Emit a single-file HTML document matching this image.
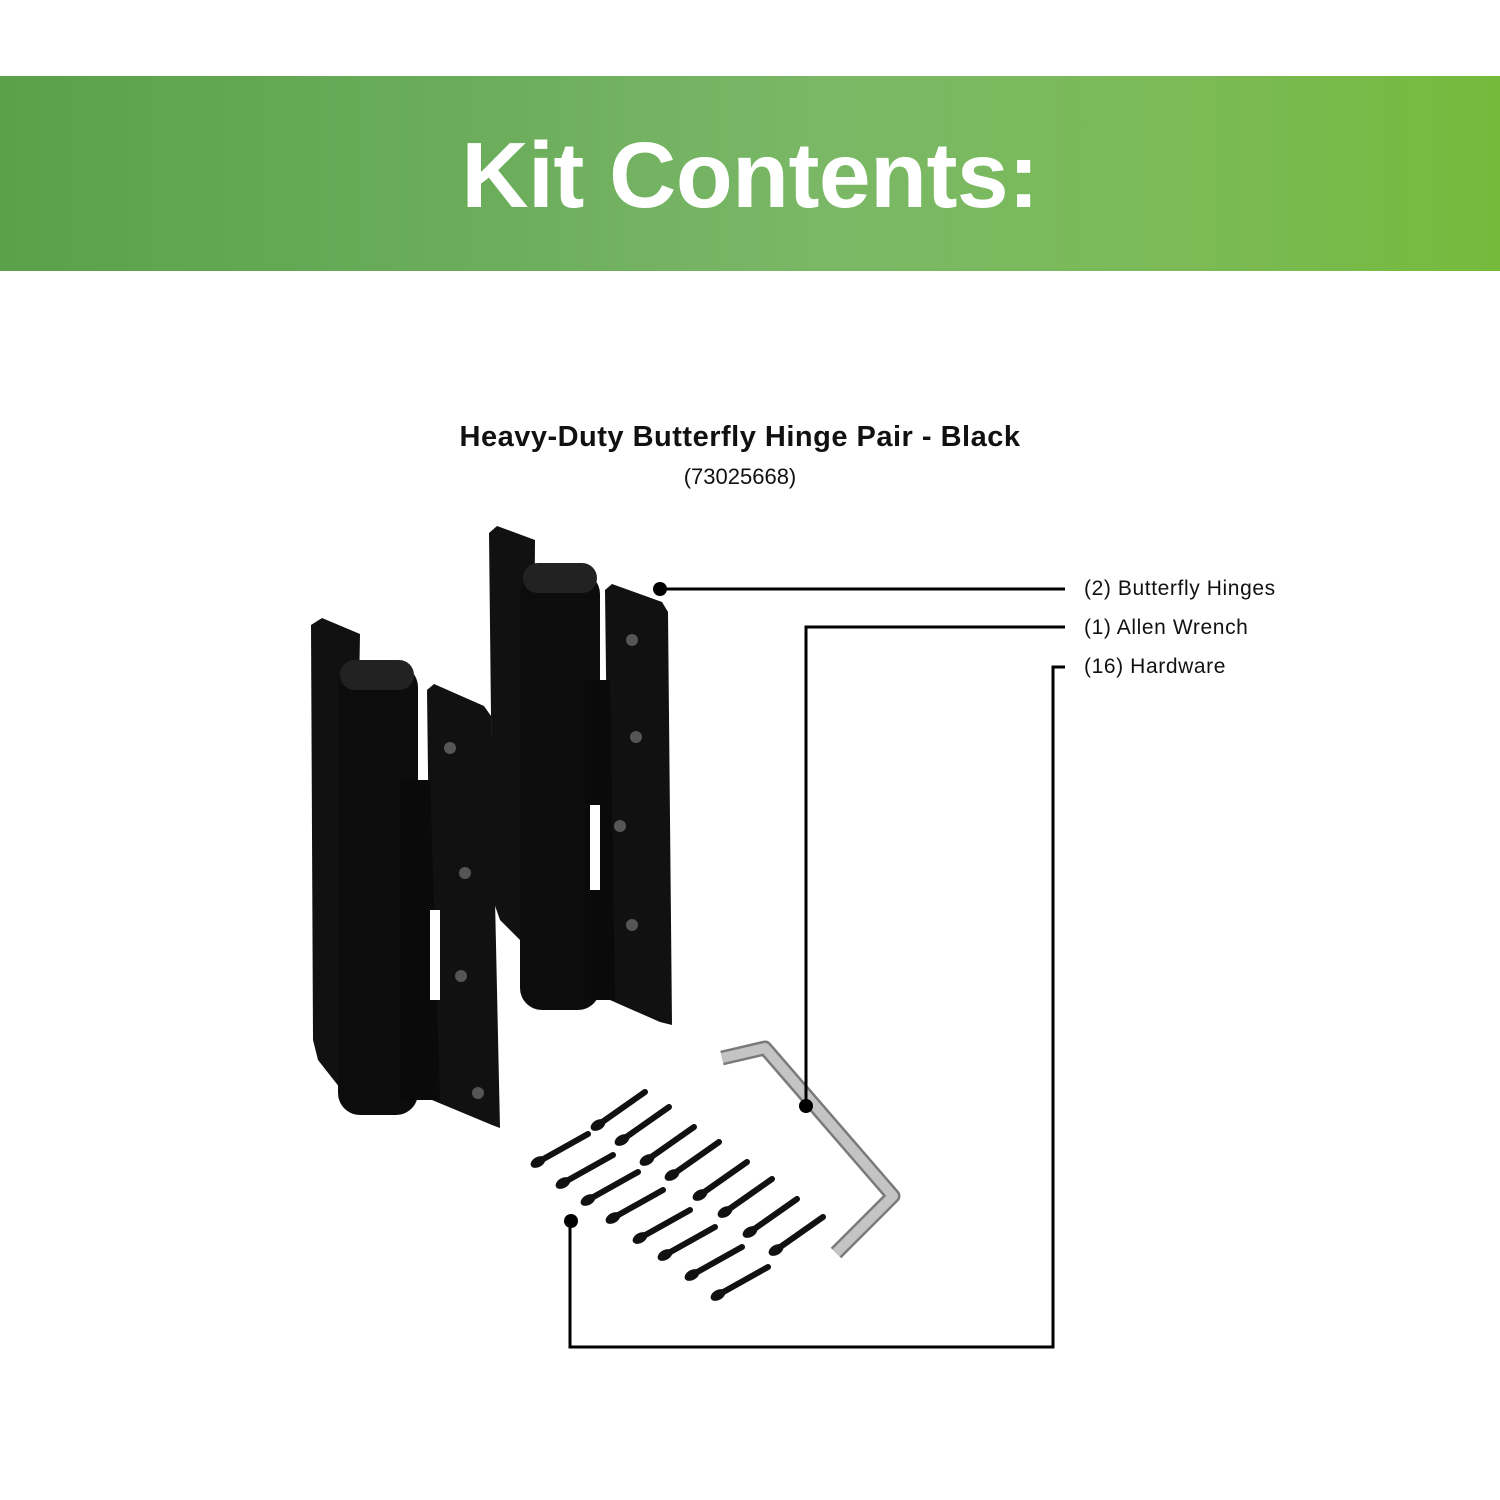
<!DOCTYPE html>
<html><head><style>
body{margin:0;width:1500px;height:1500px;background:#fff;position:relative;overflow:hidden;font-family:"Liberation Sans",Arial,sans-serif}
.banner{position:absolute;left:0;top:76px;width:1500px;height:195px;background:linear-gradient(90deg,#5aa14a 0%,#6aac5a 30%,#7ab866 55%,#7bba55 80%,#74bb3c 100%)}
.banner div{position:absolute;left:0;right:0;top:44px;text-align:center;color:#fff;font-weight:bold;font-size:93px;line-height:110px;letter-spacing:-0.5px}
.t{position:absolute;color:#111}
</style></head><body>
<div class="banner"><div>Kit Contents:</div></div>
<div class="t" style="left:0;width:1480px;top:421px;text-align:center;font-weight:bold;font-size:29px;letter-spacing:0.5px">Heavy-Duty Butterfly Hinge Pair - Black</div>
<div class="t" style="left:0;width:1480px;top:464px;text-align:center;font-size:22px">(73025668)</div>
<div class="t" style="left:1084px;top:577px;font-size:21px;letter-spacing:0.6px">(2) Butterfly Hinges</div>
<div class="t" style="left:1084px;top:616px;font-size:21px;letter-spacing:0.6px">(1) Allen Wrench</div>
<div class="t" style="left:1084px;top:655px;font-size:21px;letter-spacing:0.6px">(16) Hardware</div>
<svg width="1500" height="1500" style="position:absolute;left:0;top:0">
<g fill="#111">
<polygon points="311,625 322,618 360,634 352,1092 340,1088 318,1060 313,1040"/>
<polygon points="427,690 434,684 484,706 491,716 500,1128 492,1125 432,1100"/>
<rect x="338" y="665" width="80" height="450" rx="22" fill="#0c0c0c"/>
<rect x="340" y="660" width="74" height="30" rx="15" fill="#222"/>
<polygon points="400,780 430,780 440,1100 400,1100" fill="#0a0a0a"/>
<rect x="430" y="910" width="10" height="90" fill="#fff"/>
<polygon points="489,533 497,526 535,540 532,945 520,940 500,920 493,900"/>
<polygon points="605,590 612,584 662,602 668,612 672,1025 660,1022 610,1000"/>
<rect x="520" y="572" width="80" height="438" rx="22" fill="#0c0c0c"/>
<rect x="523" y="563" width="74" height="30" rx="15" fill="#222"/>
<polygon points="585,680 610,680 615,1000 585,1000" fill="#0a0a0a"/>
<rect x="590" y="805" width="10" height="85" fill="#fff"/>
</g>
<g fill="#555">
<circle cx="450" cy="748" r="6"/><circle cx="465" cy="873" r="6"/><circle cx="461" cy="976" r="6"/><circle cx="478" cy="1093" r="6"/>
<circle cx="632" cy="640" r="6"/><circle cx="636" cy="737" r="6"/><circle cx="620" cy="826" r="6"/><circle cx="632" cy="925" r="6"/>
</g>
<polyline points="722,1058 765,1048 893,1196 836,1253" fill="none" stroke="#7a7a7a" stroke-width="15" stroke-linejoin="round"/>
<polyline points="722,1058 765,1048 893,1196 836,1253" fill="none" stroke="#c4c4c4" stroke-width="10" stroke-linejoin="round"/>
<g stroke="#111" stroke-width="6" stroke-linecap="round" fill="#111">
<line x1="538" y1="1162" x2="588" y2="1134"/><line x1="563" y1="1183" x2="613" y2="1155"/><line x1="588" y1="1200" x2="638" y2="1172"/><line x1="613" y1="1218" x2="663" y2="1190"/>
<line x1="640" y1="1238" x2="690" y2="1210"/><line x1="665" y1="1255" x2="715" y2="1227"/><line x1="692" y1="1275" x2="742" y2="1247"/><line x1="718" y1="1295" x2="768" y2="1267"/>
<line x1="598" y1="1125" x2="645" y2="1092"/><line x1="622" y1="1140" x2="669" y2="1107"/><line x1="647" y1="1160" x2="694" y2="1127"/><line x1="672" y1="1175" x2="719" y2="1142"/>
<line x1="700" y1="1195" x2="747" y2="1162"/><line x1="725" y1="1212" x2="772" y2="1179"/><line x1="750" y1="1232" x2="797" y2="1199"/><line x1="776" y1="1250" x2="823" y2="1217"/>
</g>
<g fill="#111">
<ellipse cx="538" cy="1162" rx="8" ry="5" transform="rotate(-30 538 1162)"/><ellipse cx="563" cy="1183" rx="8" ry="5" transform="rotate(-30 563 1183)"/><ellipse cx="588" cy="1200" rx="8" ry="5" transform="rotate(-30 588 1200)"/><ellipse cx="613" cy="1218" rx="8" ry="5" transform="rotate(-30 613 1218)"/>
<ellipse cx="640" cy="1238" rx="8" ry="5" transform="rotate(-30 640 1238)"/><ellipse cx="665" cy="1255" rx="8" ry="5" transform="rotate(-30 665 1255)"/><ellipse cx="692" cy="1275" rx="8" ry="5" transform="rotate(-30 692 1275)"/><ellipse cx="718" cy="1295" rx="8" ry="5" transform="rotate(-30 718 1295)"/>
<ellipse cx="598" cy="1125" rx="8" ry="5" transform="rotate(-30 598 1125)"/><ellipse cx="622" cy="1140" rx="8" ry="5" transform="rotate(-30 622 1140)"/><ellipse cx="647" cy="1160" rx="8" ry="5" transform="rotate(-30 647 1160)"/><ellipse cx="672" cy="1175" rx="8" ry="5" transform="rotate(-30 672 1175)"/>
<ellipse cx="700" cy="1195" rx="8" ry="5" transform="rotate(-30 700 1195)"/><ellipse cx="725" cy="1212" rx="8" ry="5" transform="rotate(-30 725 1212)"/><ellipse cx="750" cy="1232" rx="8" ry="5" transform="rotate(-30 750 1232)"/><ellipse cx="776" cy="1250" rx="8" ry="5" transform="rotate(-30 776 1250)"/>
</g>
<g stroke="#000" stroke-width="3" fill="none">
<line x1="660" y1="589" x2="1065" y2="589"/>
<polyline points="1065,627 806,627 806,1106"/>
<polyline points="1065,667 1053,667 1053,1347 570,1347 570,1221"/>
</g>
<g fill="#000"><circle cx="660" cy="589" r="7"/><circle cx="806" cy="1106" r="7"/><circle cx="571" cy="1221" r="7"/></g>
</svg>
</body></html>
